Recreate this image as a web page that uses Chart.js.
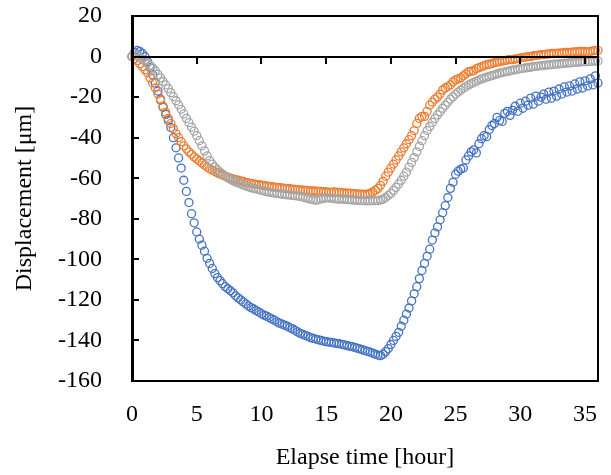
<!DOCTYPE html>
<html>
<head>
<meta charset="utf-8">
<script src="https://cdn.jsdelivr.net/npm/chart.js@4.4.1/dist/chart.umd.min.js"></script>
<style>
  html, body { margin: 0; padding: 0; background: #fff; overflow: hidden; }
  #wrap { width: 611px; height: 475px; }
  canvas { display: block; }
</style>
</head>
<body>
<div id="wrap"><canvas id="disp-chart" width="611" height="475"></canvas></div>
<script>
// elapse time [hour], one reading every 12 minutes
const hours = [
  0, 0.2, 0.4, 0.6, 0.8, 1, 1.2, 1.4, 1.6, 1.8,
  2, 2.2, 2.4, 2.6, 2.8, 3, 3.2, 3.4, 3.6, 3.8,
  4, 4.2, 4.4, 4.6, 4.8, 5, 5.2, 5.4, 5.6, 5.8,
  6, 6.2, 6.4, 6.6, 6.8, 7, 7.2, 7.4, 7.6, 7.8,
  8, 8.2, 8.4, 8.6, 8.8, 9, 9.2, 9.4, 9.6, 9.8,
  10, 10.2, 10.4, 10.6, 10.8, 11, 11.2, 11.4, 11.6, 11.8,
  12, 12.2, 12.4, 12.6, 12.8, 13, 13.2, 13.4, 13.6, 13.8,
  14, 14.2, 14.4, 14.6, 14.8, 15, 15.2, 15.4, 15.6, 15.8,
  16, 16.2, 16.4, 16.6, 16.8, 17, 17.2, 17.4, 17.6, 17.8,
  18, 18.2, 18.4, 18.6, 18.8, 19, 19.2, 19.4, 19.6, 19.8,
  20, 20.2, 20.4, 20.6, 20.8, 21, 21.2, 21.4, 21.6, 21.8,
  22, 22.2, 22.4, 22.6, 22.8, 23, 23.2, 23.4, 23.6, 23.8,
  24, 24.2, 24.4, 24.6, 24.8, 25, 25.2, 25.4, 25.6, 25.8,
  26, 26.2, 26.4, 26.6, 26.8, 27, 27.2, 27.4, 27.6, 27.8,
  28, 28.2, 28.4, 28.6, 28.8, 29, 29.2, 29.4, 29.6, 29.8,
  30, 30.2, 30.4, 30.6, 30.8, 31, 31.2, 31.4, 31.6, 31.8,
  32, 32.2, 32.4, 32.6, 32.8, 33, 33.2, 33.4, 33.6, 33.8,
  34, 34.2, 34.4, 34.6, 34.8, 35, 35.2, 35.4, 35.6, 35.8,
  36
];

// displacement [um]
const blueDisp = [
  0, 2, 3, 2.5, 1.5, 0, -2.5, -5.5, -9, -13,
  -17, -21, -25, -28.5, -31.5, -35, -40, -45, -50, -55,
  -61, -66.5, -72, -77.5, -82, -86.5, -90, -93, -96, -99.5,
  -102, -104.5, -107, -109, -110.5, -112, -113.5, -114.5, -115.5, -116.5,
  -118, -119, -120, -121, -122, -123, -123.8, -124.5, -125.3, -126,
  -126.8, -127.5, -128, -128.7, -129.4, -130, -130.8, -131.5, -132, -132.5,
  -133, -133.7, -134.3, -135, -135.8, -136.5, -137, -137.5, -138, -138.6,
  -139, -139.3, -139.7, -140, -140.3, -140.6, -140.8, -141, -141.2, -141.4,
  -141.6, -141.9, -142.2, -142.5, -142.8, -143, -143.4, -143.8, -144.2, -144.6,
  -145, -145.4, -145.8, -146.3, -146.8, -147.2, -147.5, -146.8, -145.5, -144,
  -142, -140, -138, -136, -133, -130, -127, -124, -120.5, -117,
  -113.5, -109.5, -105.5, -102, -98.5, -95, -90.5, -87, -84, -80.5,
  -77, -73.5, -69.5, -65, -62, -58, -56.5, -55.5, -55, -51,
  -49, -47, -46, -47.5, -43, -40.5, -39, -39.5, -36, -34,
  -33, -30, -31.5, -32, -28, -27, -29, -26.5, -24.5, -27,
  -23, -25.5, -22, -24, -20.5, -23.5, -19.5, -22, -20, -18.5,
  -21, -17.5, -20.5, -17, -19.5, -16, -18.5, -15, -17.5, -14.5,
  -17, -13.5, -16, -12.5, -15.5, -12, -14.5, -11, -14, -9.5,
  -13
];

const orangeDisp = [
  0, -1, -2, -3.5, -5, -6.5, -8, -10.5, -13, -15.5,
  -18.5, -21.5, -24.5, -27.5, -30.5, -33, -35.5, -38, -40, -42,
  -44, -45.5, -47, -48.2, -49.5, -50.5, -51.5, -52.5, -53.5, -54.5,
  -55.3, -56, -56.7, -57.3, -58, -58.5, -59, -59.5, -60, -60.3,
  -60.7, -61, -61.3, -61.6, -62, -62.3, -62.5, -62.8, -63, -63.2,
  -63.4, -63.6, -63.8, -64, -64.2, -64.4, -64.5, -64.7, -64.8, -65,
  -65.1, -65.2, -65.4, -65.5, -65.6, -65.7, -65.9, -66, -66, -66.2,
  -66.3, -66.4, -66.5, -66.5, -66.6, -66.8, -66.9, -67, -66.8, -66.9,
  -67, -67.1, -67.2, -67.3, -67.3, -67.5, -67.6, -67.7, -67.8, -67.9,
  -68, -67.8, -67.4, -66.8, -66, -65, -63.5, -61.5, -59, -57,
  -55, -53, -51, -49, -47, -45, -43, -41, -39, -36.5,
  -33, -30.5, -29.5, -29.5, -27, -24, -22.5, -21, -20, -18.5,
  -16.5, -15.5, -14.8, -14, -12.5, -11.5, -11, -10.5, -9.5, -8.5,
  -7.5, -7.2, -7, -6, -5.5, -5, -4.5, -4, -3.8, -3.5,
  -3, -2.7, -2.5, -2.2, -2, -1.7, -1.5, -1.5, -1.2, -1,
  -0.7, -0.5, -0.3, 0, 0, 0.4, 0.5, 0.7, 1, 1,
  1.2, 1.3, 1.5, 1.5, 1.6, 1.7, 1.8, 2, 2, 2,
  2.2, 2.3, 2.4, 2.5, 2.5, 2.5, 2.3, 2.6, 2.8, 3,
  3
];

const grayDisp = [
  0, 1, 0.5, -0.5, -1.3, -2.2, -3.2, -4.4, -5.6, -7,
  -8.8, -10.5, -12.3, -14, -15.8, -17.8, -19.8, -21.8, -23.8, -26,
  -28.3, -30.5, -32.6, -34.8, -36.8, -39, -41.5, -44, -46.5, -49,
  -51.3, -53, -54.5, -55.8, -57, -58, -59, -59.8, -60.5, -61.2,
  -61.8, -62.3, -62.8, -63.3, -63.8, -64.3, -64.7, -65, -65.3, -65.6,
  -66, -66.3, -66.6, -66.9, -67.1, -67.3, -67.5, -67.7, -67.9, -68,
  -68.2, -68.3, -68.5, -68.6, -68.8, -69, -69.3, -69.6, -70, -70.3,
  -70.6, -70.8, -70.6, -70.2, -69.9, -69.7, -69.7, -69.8, -70, -70.2,
  -70.3, -70.3, -70.4, -70.5, -70.6, -70.7, -70.8, -70.9, -71, -71,
  -71, -71.1, -71.1, -71, -71, -71, -70.7, -70.3, -69.5, -68.5,
  -67.5, -66, -64.5, -62.8, -61, -59, -57, -54.5, -52.2, -49.8,
  -47, -44.3, -41.5, -39, -36.5, -34.5, -32.5, -30.5, -28.8, -27.2,
  -25.5, -24, -22.5, -21, -19.8, -18.5, -17.5, -16.5, -15.6, -14.8,
  -14, -13.4, -12.8, -12.2, -11.6, -11, -10.6, -10.2, -9.8, -9.4,
  -9, -8.6, -8.2, -7.9, -7.6, -7.3, -7, -6.7, -6.5, -6.2,
  -6, -5.8, -5.6, -5.4, -5.2, -5, -4.8, -4.7, -4.5, -4.4,
  -4.2, -4.1, -4, -3.8, -3.7, -3.6, -3.5, -3.3, -3.2, -3.1,
  -3, -2.9, -2.8, -2.7, -2.6, -2.5, -2.5, -2.4, -2.3, -2.3,
  -2.2
];

const xTicks = [0, 5, 10, 15, 20, 25, 30, 35];
const yTicks = [20, 0, -20, -40, -60, -80, -100, -120, -140, -160];

const toPoints = (ys) => hours.map((h, i) => ({ x: h, y: ys[i] }));

// plot box, zero line and tick marks as filled bars, placed through the scales
const framePlugin = {
  id: "frame",
  afterDraw(chart) {
    const { ctx, scales } = chart;
    const left = Math.round(scales.x.getPixelForValue(0));
    const right = Math.round(scales.x.getPixelForValue(36));
    const top = Math.round(scales.y.getPixelForValue(20));
    const bottom = Math.round(scales.y.getPixelForValue(-160));
    const y0 = Math.round(scales.y.getPixelForValue(0));
    ctx.save();
    ctx.fillStyle = "#000";
    ctx.fillRect(left, top - 1, right - left + 1, 2);
    ctx.fillRect(right - 1, top - 1, 2, bottom - top + 2);
    ctx.fillRect(left, bottom - 1, right - left + 1, 2);
    ctx.fillRect(left - 1, y0 - 1, right - left + 1, 2);
    ctx.fillRect(left - 1, top - 1, 3, bottom - top + 2);
    xTicks.forEach((t) => {
      const px = Math.round(scales.x.getPixelForValue(t));
      ctx.fillRect(px - 1, y0, 2, 7);
    });
    yTicks.forEach((t) => {
      const py = Math.round(scales.y.getPixelForValue(t));
      ctx.fillRect(left, py - 1, 7, 2);
    });
    ctx.restore();
  },
};

function makeSet(label, ys, color, order) {
  return {
    label,
    data: toPoints(ys),
    borderColor: color,
    backgroundColor: "rgba(0,0,0,0)",
    borderWidth: 1.3,
    pointRadius: 4,
    pointStyle: "circle",
    showLine: false,
    clip: false,
    order,
  };
}

const ctx = document.getElementById("disp-chart").getContext("2d");
const serif = "'Liberation Serif', 'Times New Roman', serif";

new Chart(ctx, {
  type: "scatter",
  data: {
    datasets: [
      makeSet("Blue", blueDisp, "#4472C4", 3),
      makeSet("Orange", orangeDisp, "#ED7D31", 2),
      makeSet("Gray", grayDisp, "#A5A5A5", 1),
    ],
  },
  options: {
    responsive: false,
    animation: false,
    layout: { padding: { top: 16, right: 13, left: 0, bottom: 0 } },
    plugins: {
      legend: { display: false },
      tooltip: { enabled: false },
    },
    scales: {
      x: {
        type: "linear",
        min: 0,
        max: 36,
        afterFit: (s) => { s.height = 94; s.paddingLeft = 0; s.paddingRight = 0; },
        afterBuildTicks: (s) => { s.ticks = xTicks.map((v) => ({ value: v })); },
        grid: { display: false, drawTicks: false },
        border: { display: false },
        ticks: { color: "#000", font: { family: serif, size: 24 }, padding: 19, maxRotation: 0 },
        title: {
          display: true,
          text: "Elapse time [hour]",
          color: "#000",
          font: { family: serif, size: 24 },
          padding: { top: 0, bottom: 3 },
        },
      },
      y: {
        min: -160,
        max: 20,
        afterFit: (s) => { s.width = 132; s.paddingTop = 0; s.paddingBottom = 0; },
        afterBuildTicks: (s) => { s.ticks = yTicks.map((v) => ({ value: v })); },
        grid: { display: false, drawTicks: false },
        border: { display: false },
        ticks: { color: "#000", font: { family: serif, size: 24 }, padding: 30 },
        title: {
          display: true,
          text: "Displacement [μm]",
          color: "#000",
          font: { family: serif, size: 24 },
          padding: { top: 10, bottom: 0 },
        },
      },
    },
  },
  plugins: [framePlugin],
});
</script>
</body>
</html>
